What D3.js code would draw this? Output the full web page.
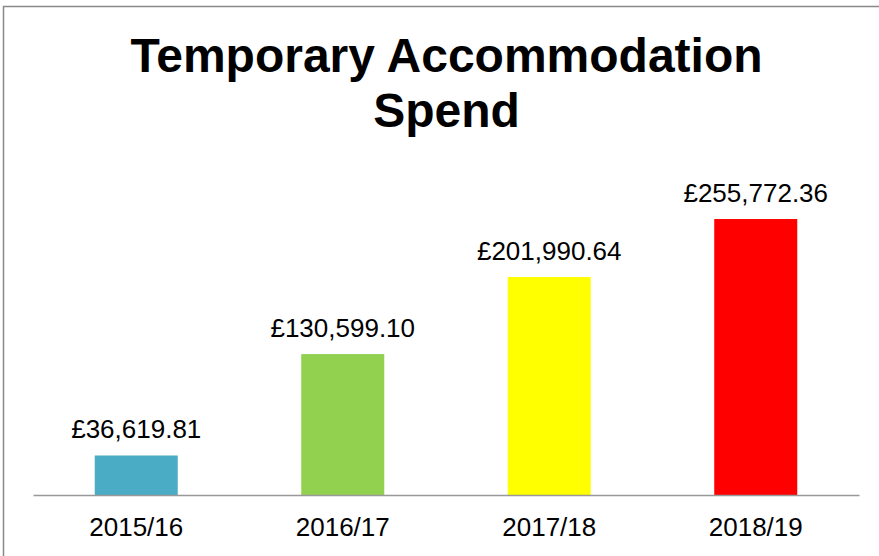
<!DOCTYPE html>
<meta charset="utf-8">
<title>Temporary Accommodation Spend</title>
<style>
body {
  margin: 0;
  background-color: white;
  font-family: 'Liberation Sans', Arial, 'Helvetica', sans-serif;
}
svg {
  display: block;
}
</style>
<svg></svg>
<script src="https://d3js.org/d3.v7.min.js"></script>
<script>
var years = ["2015/16", "2016/17", "2017/18", "2018/19"],
    spend = [36619.81, 130599.10, 201990.64, 255772.36],
    colours = ["#4bacc6", "#92d050", "#ffff00", "#ff0000"],
    titleLines = ["Temporary Accommodation", "Spend"];

var width = 879,
    height = 556,
    baseline = 495;

var svg = d3.select("svg")
    .attr("width", width)
    .attr("height", height);

// outer chart frame (right and bottom edges fall outside the picture)
svg.append("rect")
    .attr("x", 3.5)
    .attr("y", 6.5)
    .attr("width", 900)
    .attr("height", 600)
    .attr("fill", "none")
    .attr("stroke", "#898989")
    .attr("stroke-width", 1.5);

svg.append("text")
    .attr("x", 446.5)
    .attr("y", 72)
    .attr("text-anchor", "middle")
    .style("font-size", "48px")
    .style("font-weight", "bold")
    .selectAll("tspan")
    .data(titleLines)
    .enter().append("tspan")
      .attr("x", 446.5)
      .attr("dy", function(d, i) { return i ? 55 : 0; })
      .text(function(d) { return d; });

var x = d3.scaleBand()
    .domain(years)
    .range([33, 859])
    .paddingInner(0.598)
    .paddingOuter(0.299);

var y = d3.scaleLinear()
    .domain([0, 300000])
    .range([baseline, baseline - 323.7]);

var rows = years.map(function(d, i) { return {year: d, value: spend[i], colour: colours[i]}; });

svg.selectAll("rect.bar")
  .data(rows)
  .enter().append("rect")
    .attr("class", "bar")
    .attr("x", function(d) { return x(d.year); })
    .attr("width", x.bandwidth())
    .attr("y", function(d) { return y(d.value); })
    .attr("height", function(d) { return y(0) - y(d.value); })
    .attr("fill", function(d) { return d.colour; });

var fmt = d3.format(",.2f");

svg.selectAll("text.value")
  .data(rows)
  .enter().append("text")
    .attr("class", "value")
    .attr("x", function(d) { return x(d.year) + x.bandwidth() / 2; })
    .attr("y", function(d) { return y(d.value) - 17; })
    .attr("text-anchor", "middle")
    .style("font-size", "26px")
    .text(function(d) { return "£" + fmt(d.value); });

var axis = svg.append("g")
    .attr("transform", "translate(0," + baseline + ")")
    .call(d3.axisBottom(x).tickSize(0).tickPadding(0));

axis.select(".domain")
    .attr("stroke", "#999999")
    .attr("stroke-width", 1.5);

axis.selectAll(".tick text")
    .attr("dy", null)
    .attr("y", 41)
    .attr("fill", "#000")
    .style("font-size", "26px")
    .style("font-family", "'Liberation Sans', Arial, sans-serif");
</script>
